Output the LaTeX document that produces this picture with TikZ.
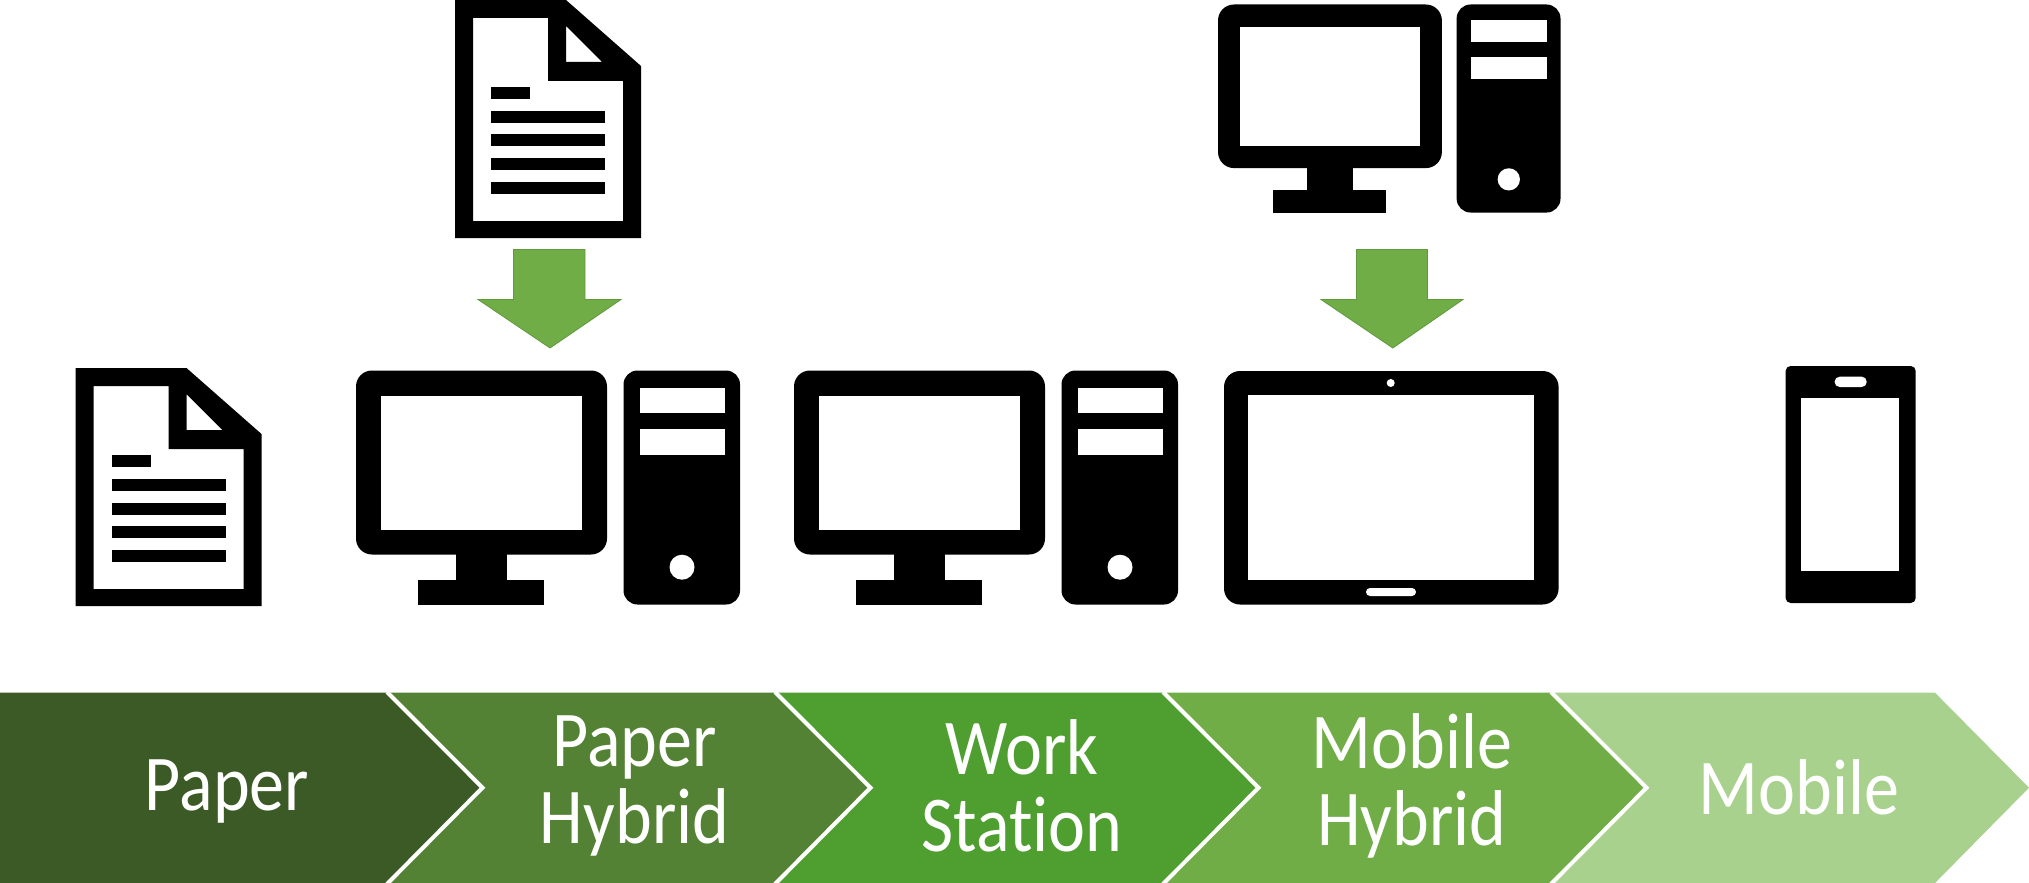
\documentclass[tikz,border=0pt]{standalone}
\usepackage{fontspec}
\setmainfont[Ligatures=NoCommon]{Carlito}
\definecolor{cOne}{HTML}{3B5A25}
\definecolor{cTwo}{HTML}{548235}
\definecolor{cThree}{HTML}{4F9E30}
\definecolor{cFour}{HTML}{70AD47}
\definecolor{cFive}{HTML}{A9D18E}
\definecolor{arrowEdge}{HTML}{5F9A3C}
\tikzset{
  icon/.style={fill=black,even odd rule},
  hole/.style={fill=white},
  downarrow/.style={fill=cFour,draw=arrowEdge,line width=.4pt},
  sep/.style={draw=white,line width=2pt,line join=miter},
  lab/.style={text=white,align=center,font=\fontsize{35}{34}\selectfont,inner sep=0pt,transform shape,xscale=1,yscale=1.13},
}
\newcommand{\docicon}[2]{%
  \begin{scope}[shift={(#1,#2)}]
    \fill[icon] (0,0) -- (111,0) -- (186,66) -- (186,238) -- (0,238) -- cycle
      (18,18) -- (93,18) -- (93,81) -- (168,81) -- (168,221) -- (18,221) -- cycle
      (111,26) -- (147,62) -- (111,62) -- cycle;
    \fill (36,87) rectangle (75,98.7);
    \fill (36,110.7) rectangle (150,122.7);
    \fill (36,134.5) rectangle (150,146.5);
    \fill (36,158) rectangle (150,170);
    \fill (36,182) rectangle (150,194);
  \end{scope}}
\newcommand{\pcicon}[4]{%
  \begin{scope}[shift={(#1,#2)},xscale=#3,yscale=#4]
    \fill[rounded corners=8pt] (0,0) rectangle (251,184);
    \fill[hole] (24.6,25) rectangle (226,159);
    \fill (99.6,180) rectangle (151,212);
    \fill (62,209) rectangle (188,234);
    \fill[rounded corners=7pt] (267.5,0) rectangle (384,234);
    \fill[hole] (284,17) rectangle (368.5,42);
    \fill[hole] (284,58.7) rectangle (368.5,84);
    \fill[hole] (326,196.7) circle (12.5);
  \end{scope}}
\begin{document}
\begin{tikzpicture}[x=.5pt,y=-.5pt]
\useasboundingbox (0,0) rectangle (2029,883);
\clip (0,0) rectangle (2029,883);
% document icons
\docicon{455}{0}
\docicon{75.5}{368}
% computers
\pcicon{356}{370.5}{1}{1}
\pcicon{794}{370.5}{1}{1}
\pcicon{1218}{4.5}{.892}{.889}
% tablet
\fill[rounded corners=8pt] (1224,371) rectangle (1558.6,604.5);
\fill[hole] (1248,395) rectangle (1533.6,580);
\fill[hole] (1390.7,383) circle (4);
\fill[hole,rounded corners=2pt] (1366,588) rectangle (1416,596);
% phone
\fill[rounded corners=2.5pt] (1785.6,366) rectangle (1915.7,603);
\fill[hole] (1801,398) rectangle (1899,571);
\fill[hole,rounded corners=2.5pt] (1834.6,376.7) rectangle (1866.7,387);
% green arrows
\path[downarrow] (513.5,249.5) -- (585,249.5) -- (585,299.5) -- (621,299.5) -- (550,348) -- (478,299.5) -- (513.5,299.5) -- cycle;
\path[downarrow] (1356.5,249.5) -- (1427.5,249.5) -- (1427.5,299.5) -- (1463,299.5) -- (1392.8,348) -- (1321,299.5) -- (1356.5,299.5) -- cycle;
% chevrons
\fill[cOne] (0,692.7) -- (386,692.7) -- (481.5,787.7) -- (386,883) -- (0,883) -- cycle;
\fill[cTwo] (386,692.7) -- (774,692.7) -- (869.5,787.7) -- (774,883) -- (386,883) -- (481.5,787.7) -- cycle;
\fill[cThree] (774,692.7) -- (1162,692.7) -- (1257.5,787.7) -- (1162,883) -- (774,883) -- (869.5,787.7) -- cycle;
\fill[cFour] (1162,692.7) -- (1550,692.7) -- (1645.5,787.7) -- (1550,883) -- (1162,883) -- (1257.5,787.7) -- cycle;
\fill[cFive] (1550,692.7) -- (1935,692.7) -- (2029,787.7) -- (1935,883) -- (1550,883) -- (1645.5,787.7) -- cycle;
\draw[sep] (387,692) -- (482.5,787.7) -- (387,884);
\draw[sep] (775,692) -- (870.5,787.7) -- (775,884);
\draw[sep] (1163,692) -- (1258.5,787.7) -- (1163,884);
\draw[sep] (1551,692) -- (1646.5,787.7) -- (1551,884);
% labels
\node[lab] (paper) at (227,791) {Paper};
\node[lab] (paperhybrid) at (634.6,786) {Paper\\Hybrid};
\node[lab] (workstation) at (1022,786) {Work\\Station};
\node[lab] (mobilehybrid) at (1412,786) {Mobile\\Hybrid};
\node[lab] (mobile) at (1799,787) {Mobile};
\end{tikzpicture}
\end{document}
